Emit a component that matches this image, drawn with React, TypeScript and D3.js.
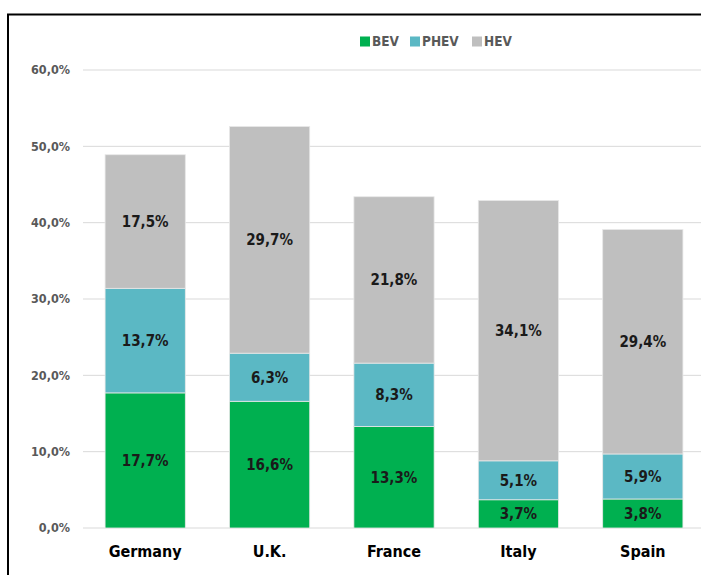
import React from "react";
import * as d3 from "d3";

const countries = ["Germany", "U.K.", "France", "Italy", "Spain"];
const bev = [17.7, 16.6, 13.3, 3.7, 3.8];
const phev = [13.7, 6.3, 8.3, 5.1, 5.9];
const hev = [17.5, 29.7, 21.8, 34.1, 29.4];
const seriesNames = ["BEV", "PHEV", "HEV"];
const seriesColors = ["#00B050", "#5BB8C4", "#BFBFBF"];
const yTicks = [0, 10, 20, 30, 40, 50, 60];

const W = 701;
const H = 575;
const FONT = "'DejaVu Sans Condensed', 'DejaVu Sans', sans-serif";

export default function App() {
  const x = d3
    .scaleBand<string>()
    .domain(countries)
    .range([83, 705])
    .paddingInner(0.355)
    .paddingOuter(0.1775);
  const y = d3.scaleLinear().domain([0, 60]).range([528, 70]);

  const rows = countries.map((c, i) => ({ country: c, BEV: bev[i], PHEV: phev[i], HEV: hev[i] }));
  const stacked = d3.stack<any>().keys(seriesNames)(rows);
  const fmt = (v: number) => v.toFixed(1).replace(".", ",") + "%";

  const legendItems = [
    { name: "BEV", sx: 360, tx: 372 },
    { name: "PHEV", sx: 410, tx: 422 },
    { name: "HEV", sx: 472, tx: 484 },
  ];

  return (
    <svg
      width={W}
      height={H}
      style={{ position: "absolute", left: 0, top: 0, display: "block", background: "#fff" }}
    >
      <rect x={0} y={0} width={W} height={H} fill="#fff" />
      <rect x={8} y={14.5} width={W + 20} height={H + 20} fill="none" stroke="#000" strokeWidth={2} />
      {yTicks.map((t) => (
        <g key={t}>
          <line x1={83} x2={W} y1={y(t)} y2={y(t)} stroke="#D9D9D9" strokeWidth={1} />
          <text
            x={70}
            y={y(t)}
            dy="0.35em"
            textAnchor="end"
            fontFamily={FONT}
            fontWeight="bold"
            fontSize={12.5}
            fill="#595959"
          >
            {t.toFixed(1).replace(".", ",") + "%"}
          </text>
        </g>
      ))}
      {stacked.map((layer, si) => (
        <g key={layer.key}>
          {layer.map((d, i) => {
            const x0 = x(countries[i])!;
            const y0 = y(d[1]);
            const h = y(d[0]) - y(d[1]);
            const v = d[1] - d[0];
            return (
              <g key={i}>
                <rect
                  x={x0}
                  y={y0}
                  width={x.bandwidth()}
                  height={h}
                  fill={seriesColors[si]}
                  stroke="#E8E8E8"
                  strokeWidth={0.8}
                />
                <text
                  x={x0 + x.bandwidth() / 2}
                  y={y0 + h / 2}
                  dy="0.36em"
                  textAnchor="middle"
                  fontFamily={FONT}
                  fontWeight="bold"
                  fontSize={15}
                  fill="#1a1a1a"
                >
                  {fmt(v)}
                </text>
              </g>
            );
          })}
        </g>
      ))}
      {countries.map((c) => (
        <text
          key={c}
          x={x(c)! + x.bandwidth() / 2}
          y={557}
          textAnchor="middle"
          fontFamily={FONT}
          fontWeight="bold"
          fontSize={16}
          fill="#000"
        >
          {c}
        </text>
      ))}
      {legendItems.map((l, i) => (
        <g key={l.name}>
          <rect x={l.sx} y={36.5} width={10} height={10} fill={seriesColors[i]} />
          <text
            x={l.tx}
            y={41.5}
            dy="0.36em"
            fontFamily={FONT}
            fontWeight="bold"
            fontSize={13.5}
            fill="#595959"
          >
            {l.name}
          </text>
        </g>
      ))}
    </svg>
  );
}
